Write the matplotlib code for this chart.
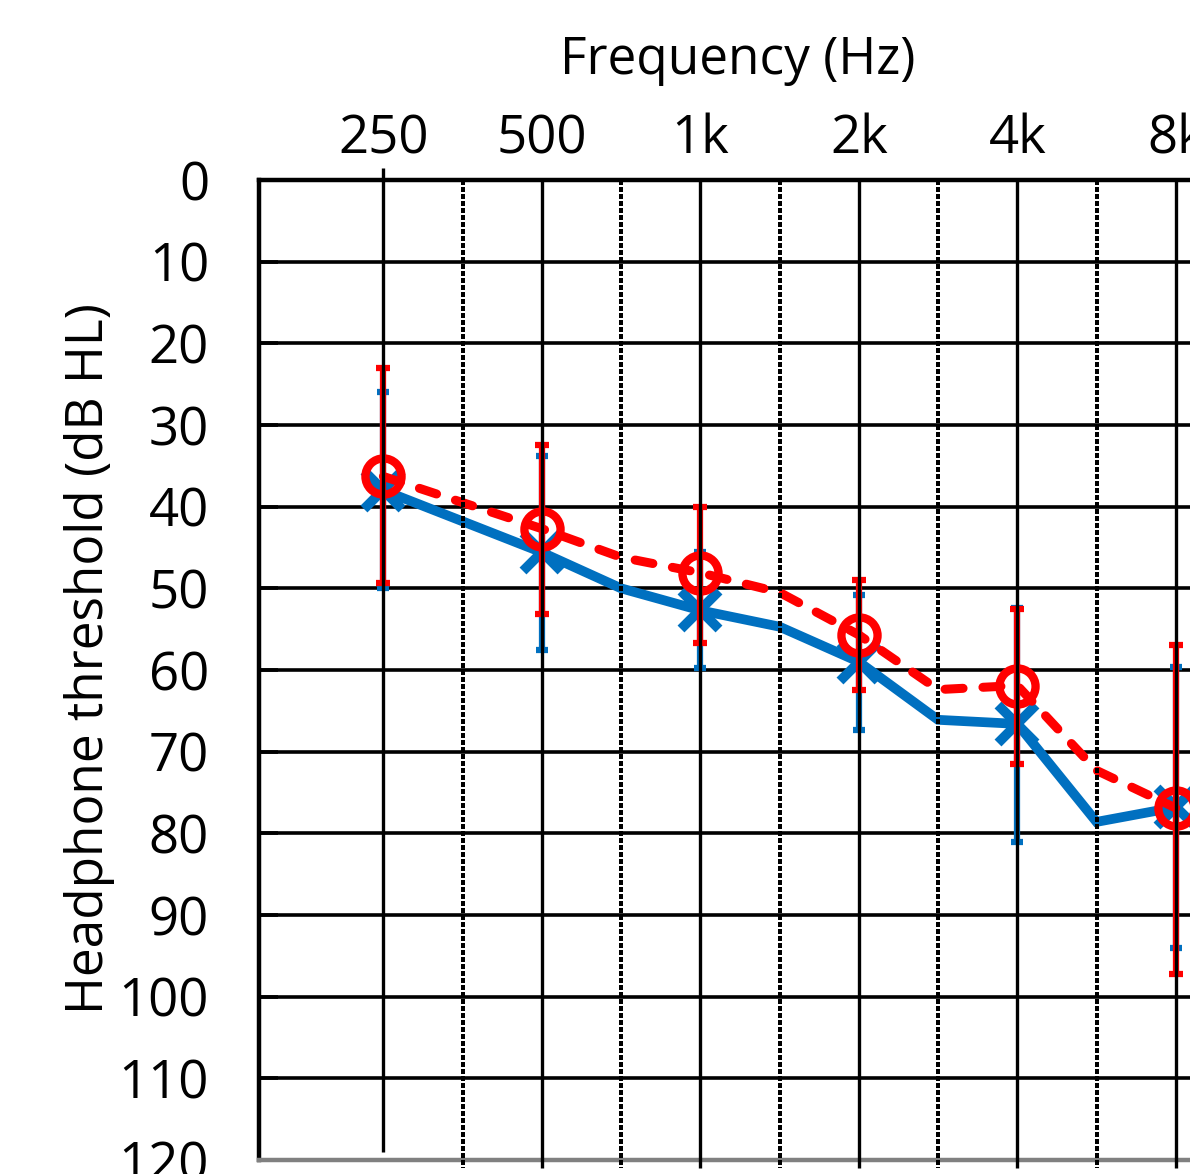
"""audiogram: mean headphone thresholds with error bars"""
import numpy as np
import matplotlib
matplotlib.use("Agg")
from matplotlib import pyplot as plt

plt.rcParams['font.family'] = ['Open Sans', 'DejaVu Sans']

# half-octave grid, labelled at octaves
grid_freqs = [250, 354, 500, 750, 1000, 1500, 2000, 3000, 4000, 6000, 8000]
octave_freqs = [250, 500, 1000, 2000, 4000, 8000]
octave_labels = ['250', '500', '1k', '2k', '4k', '8k']

# thresholds along the lines (dB HL)
line_freqs = [250, 500, 750, 1000, 1500, 2000, 3000, 4000, 6000, 8000]
blue_thr = [38.0, 45.6, 50.0, 52.7, 54.7, 59.0, 66.1, 66.6, 78.6, 76.8]
red_thr = [36.3, 42.7, 46.2, 48.1, 50.5, 55.7, 62.4, 61.9, 72.3, 76.9]

# error bar ends at the octave frequencies
blue_lo = [25.9, 33.8, 45.6, 50.8, 52.4, 59.6]
blue_hi = [50.0, 57.5, 59.7, 67.3, 81.0, 94.0]
red_lo = [23.0, 32.4, 40.0, 49.0, 52.5, 56.9]
red_hi = [49.3, 53.2, 56.7, 62.5, 71.5, 97.2]

db_ticks = list(range(0, 130, 10))

BLUE = '#0070C0'
RED = '#FF0000'


def pos(freqs):
    'position on the half-octave grid'
    return np.array([grid_freqs.index(f) * 0.5 for f in freqs])


def plot():
    fig = plt.figure(figsize=(11.9, 11.74), dpi=100)
    ax = fig.add_axes([259 / 1190, 14 / 1174, 996 / 1190, 980 / 1174])
    ax.set_xlim(-0.785, 5.5)
    ax.set_ylim(120, 0)

    # horizontal grid below the data
    ax.hlines(db_ticks[1:-1], -0.785, 5.5, color='black', lw=2.6, zorder=1)

    xo = pos(octave_freqs)
    xl = pos(line_freqs)
    bo = np.array([blue_thr[line_freqs.index(f)] for f in octave_freqs])
    ro = np.array([red_thr[line_freqs.index(f)] for f in octave_freqs])

    # blue series
    ax.plot(xl, blue_thr, color=BLUE, lw=7, solid_joinstyle='miter', zorder=3)
    ax.plot(xo, bo, ls='none', marker='x', ms=28, mew=7, color=BLUE, zorder=3)
    ax.errorbar(xo, bo, yerr=[bo - np.array(blue_lo), np.array(blue_hi) - bo],
                fmt='none', ecolor=BLUE, elinewidth=4.5, capsize=4.5,
                capthick=4.5, zorder=3.2)

    # red series
    ax.plot(xl, red_thr, color=RED, lw=6.5, ls=(0, (2.0, 2.2)),
            dash_capstyle='round', zorder=4)
    ax.plot(xo, ro, ls='none', marker='o', ms=26, mew=6, mec=RED,
            fillstyle='none', zorder=4)
    ax.errorbar(xo, ro, yerr=[ro - np.array(red_lo), np.array(red_hi) - ro],
                fmt='none', ecolor=RED, elinewidth=4.5, capsize=5,
                capthick=4.5, zorder=4.2)

    # vertical grid drawn over the data
    ax.vlines(xo[0], -1.5, 119, color='black', lw=2.4, zorder=5, clip_on=False)
    ax.vlines(xo[1:], 0, 121, color='black', lw=2.4, zorder=5, clip_on=False)
    half = pos([354, 750, 1500, 3000, 6000])
    ax.vlines(half, 0, 121, color='black', lw=3, ls=(0, (1.0, 0.5)),
              zorder=5, clip_on=False, antialiased=False)

    for side in ['top', 'left']:
        ax.spines[side].set_linewidth(3.2)
        ax.spines[side].set_color('black')
    ax.spines['bottom'].set_linewidth(3.2)
    ax.spines['bottom'].set_color('#808080')
    ax.spines['right'].set_visible(False)

    ax.xaxis.tick_top()
    ax.set_xticks(xo)
    ax.set_xticklabels(octave_labels)
    ax.tick_params(axis='x', length=0, pad=10, labelsize=38)
    ax.set_yticks(db_ticks)
    ax.set_yticklabels([str(d) for d in db_ticks])
    ax.tick_params(axis='y', direction='in', length=14, width=2.6, pad=36,
                   labelsize=38)

    fig.text(738 / 1190, 1 - 60 / 1174, 'Frequency (Hz)', ha='center',
             va='center', fontsize=37)
    fig.text(90 / 1190, 1 - 659 / 1174, 'Headphone threshold (dB HL)',
             ha='center', va='center', rotation=90, fontsize=37)

    fig.savefig('out.png', dpi=100)


if __name__ == "__main__":
    plot()
